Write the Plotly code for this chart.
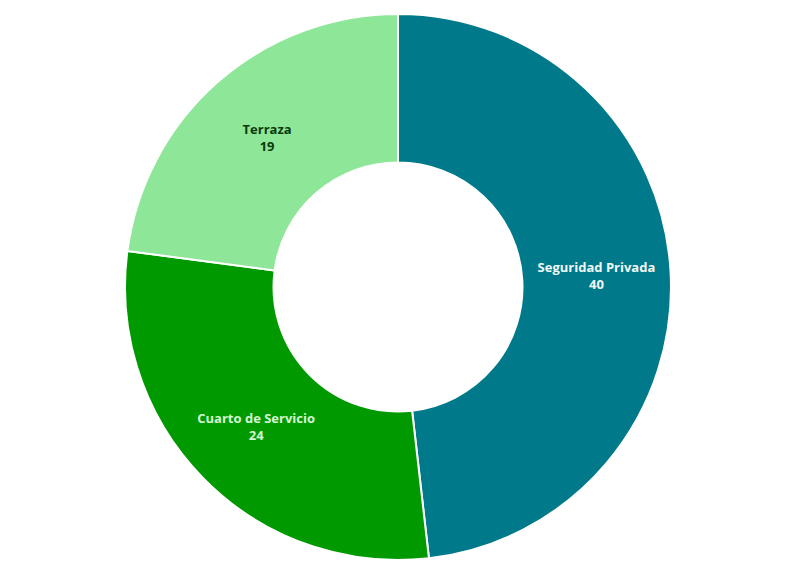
import plotly.graph_objects as go

# Datos del gráfico
categorias = ["Seguridad Privada", "Cuarto de Servicio", "Terraza"]
valores = [40, 24, 19]
colores = ["#007A8A", "#009A00", "#8EE698"]
colores_texto = ["#F2F7F7", "#D4F7D4", "#0B3A0B"]

fig = go.Figure()

fig.add_trace(go.Pie(
    labels=categorias,
    values=valores,
    hole=0.456,
    sort=False,
    direction="clockwise",
    rotation=0,
    textinfo="label+value",
    textposition="inside",
    insidetextorientation="horizontal",
    texttemplate="<b>%{label}</b><br><b>%{value}</b>",
    textfont=dict(family="Open Sans", size=13, color=colores_texto),
    marker=dict(colors=colores, line=dict(color="white", width=2)),
    showlegend=False,
    hoverinfo="label+value+percent",
))

# el navegador añade ~8px de margen, se compensa aquí
fig.update_layout(
    width=794,
    height=575,
    margin=dict(l=0, r=14, t=6, b=23),
    paper_bgcolor="white",
    plot_bgcolor="white",
)

fig.write_html("out.html")
